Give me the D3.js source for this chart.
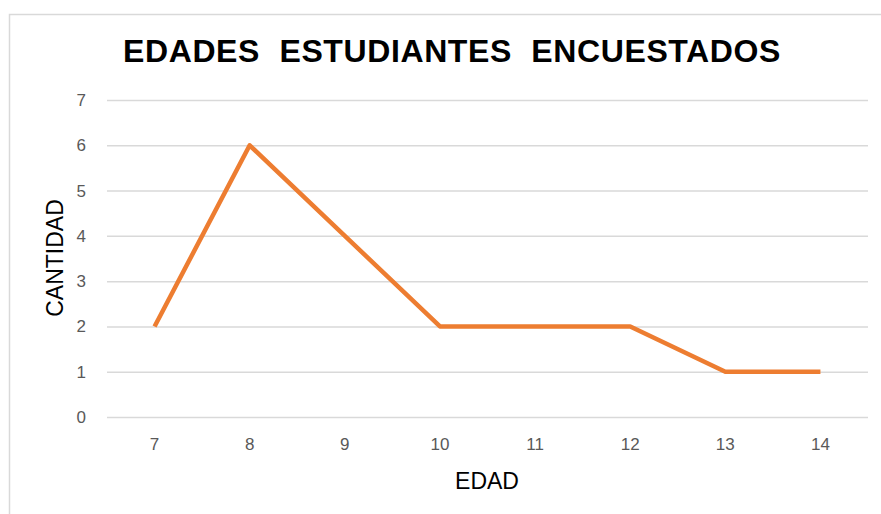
<!DOCTYPE html>
<html>
<head>
<meta charset="utf-8">
<script src="https://d3js.org/d3.v7.min.js"></script>
<style>
  body { margin: 0; background: #fff; }
  svg { display: block; font-family: "Liberation Sans", Arial, sans-serif; }
</style>
</head>
<body>
<svg id="chart"></svg>
<script>
// data
var edades = ["7", "8", "9", "10", "11", "12", "13", "14"];
var cantidad = [2, 6, 4, 2, 2, 2, 1, 1];
var yTicks = [0, 1, 2, 3, 4, 5, 6, 7];

var width = 881, height = 514;
var margin = {top: 100, right: 13, bottom: 97, left: 107};

var svg = d3.select("#chart")
    .attr("width", width)
    .attr("height", height);

// chart frame (only top and left edges visible in the reference)
svg.append("rect")
    .attr("x", 9.5).attr("y", 14.5)
    .attr("width", width + 20).attr("height", height + 20)
    .attr("fill", "#fff")
    .attr("stroke", "#d9d9d9")
    .attr("stroke-width", 1.5);

var x = d3.scaleBand().domain(edades)
    .range([margin.left, width - margin.right]).padding(0);
var y = d3.scaleLinear().domain([0, 7])
    .range([height - margin.bottom, margin.top]);

// gridlines + y labels
var yAxis = svg.append("g")
    .attr("transform", "translate(" + margin.left + ",0)")
    .call(d3.axisLeft(y).tickValues(yTicks).tickFormat(d3.format("d"))
        .tickSize(-(width - margin.left - margin.right)).tickPadding(21));
yAxis.select(".domain").remove();
yAxis.selectAll(".tick line").attr("stroke", "#d9d9d9").attr("stroke-width", 1.5);
yAxis.selectAll(".tick text")
    .attr("fill", "#595959").attr("font-size", "17px")
    .attr("font-family", "Liberation Sans, Arial, sans-serif");

// x labels
var xAxis = svg.append("g")
    .attr("transform", "translate(0," + (height - margin.bottom) + ")")
    .call(d3.axisBottom(x).tickSize(0).tickPadding(21));
xAxis.select(".domain").remove();
xAxis.selectAll(".tick text")
    .attr("fill", "#595959").attr("font-size", "17px")
    .attr("font-family", "Liberation Sans, Arial, sans-serif");

// line
var line = d3.line()
    .x(function(d, i) { return x(edades[i]) + x.bandwidth() / 2; })
    .y(function(d) { return y(d); });

svg.append("path")
    .datum(cantidad)
    .attr("d", line)
    .attr("fill", "none")
    .attr("stroke", "#ed7d31")
    .attr("stroke-width", 4.5)
    .attr("stroke-linejoin", "round");

// title
svg.append("text")
    .attr("x", 452).attr("y", 62)
    .attr("text-anchor", "middle")
    .attr("font-size", "32px")
    .attr("font-weight", "bold")
    .attr("fill", "#000")
    .attr("word-spacing", "10px")
    .attr("letter-spacing", "0.6px")
    .text("EDADES ESTUDIANTES ENCUESTADOS");

// axis titles
svg.append("text")
    .attr("transform", "translate(63,258) rotate(-90)")
    .attr("text-anchor", "middle")
    .attr("font-size", "23px")
    .attr("fill", "#000")
    .text("CANTIDAD");

svg.append("text")
    .attr("x", 487).attr("y", 489)
    .attr("text-anchor", "middle")
    .attr("font-size", "23px")
    .attr("fill", "#000")
    .text("EDAD");
</script>
</body>
</html>
